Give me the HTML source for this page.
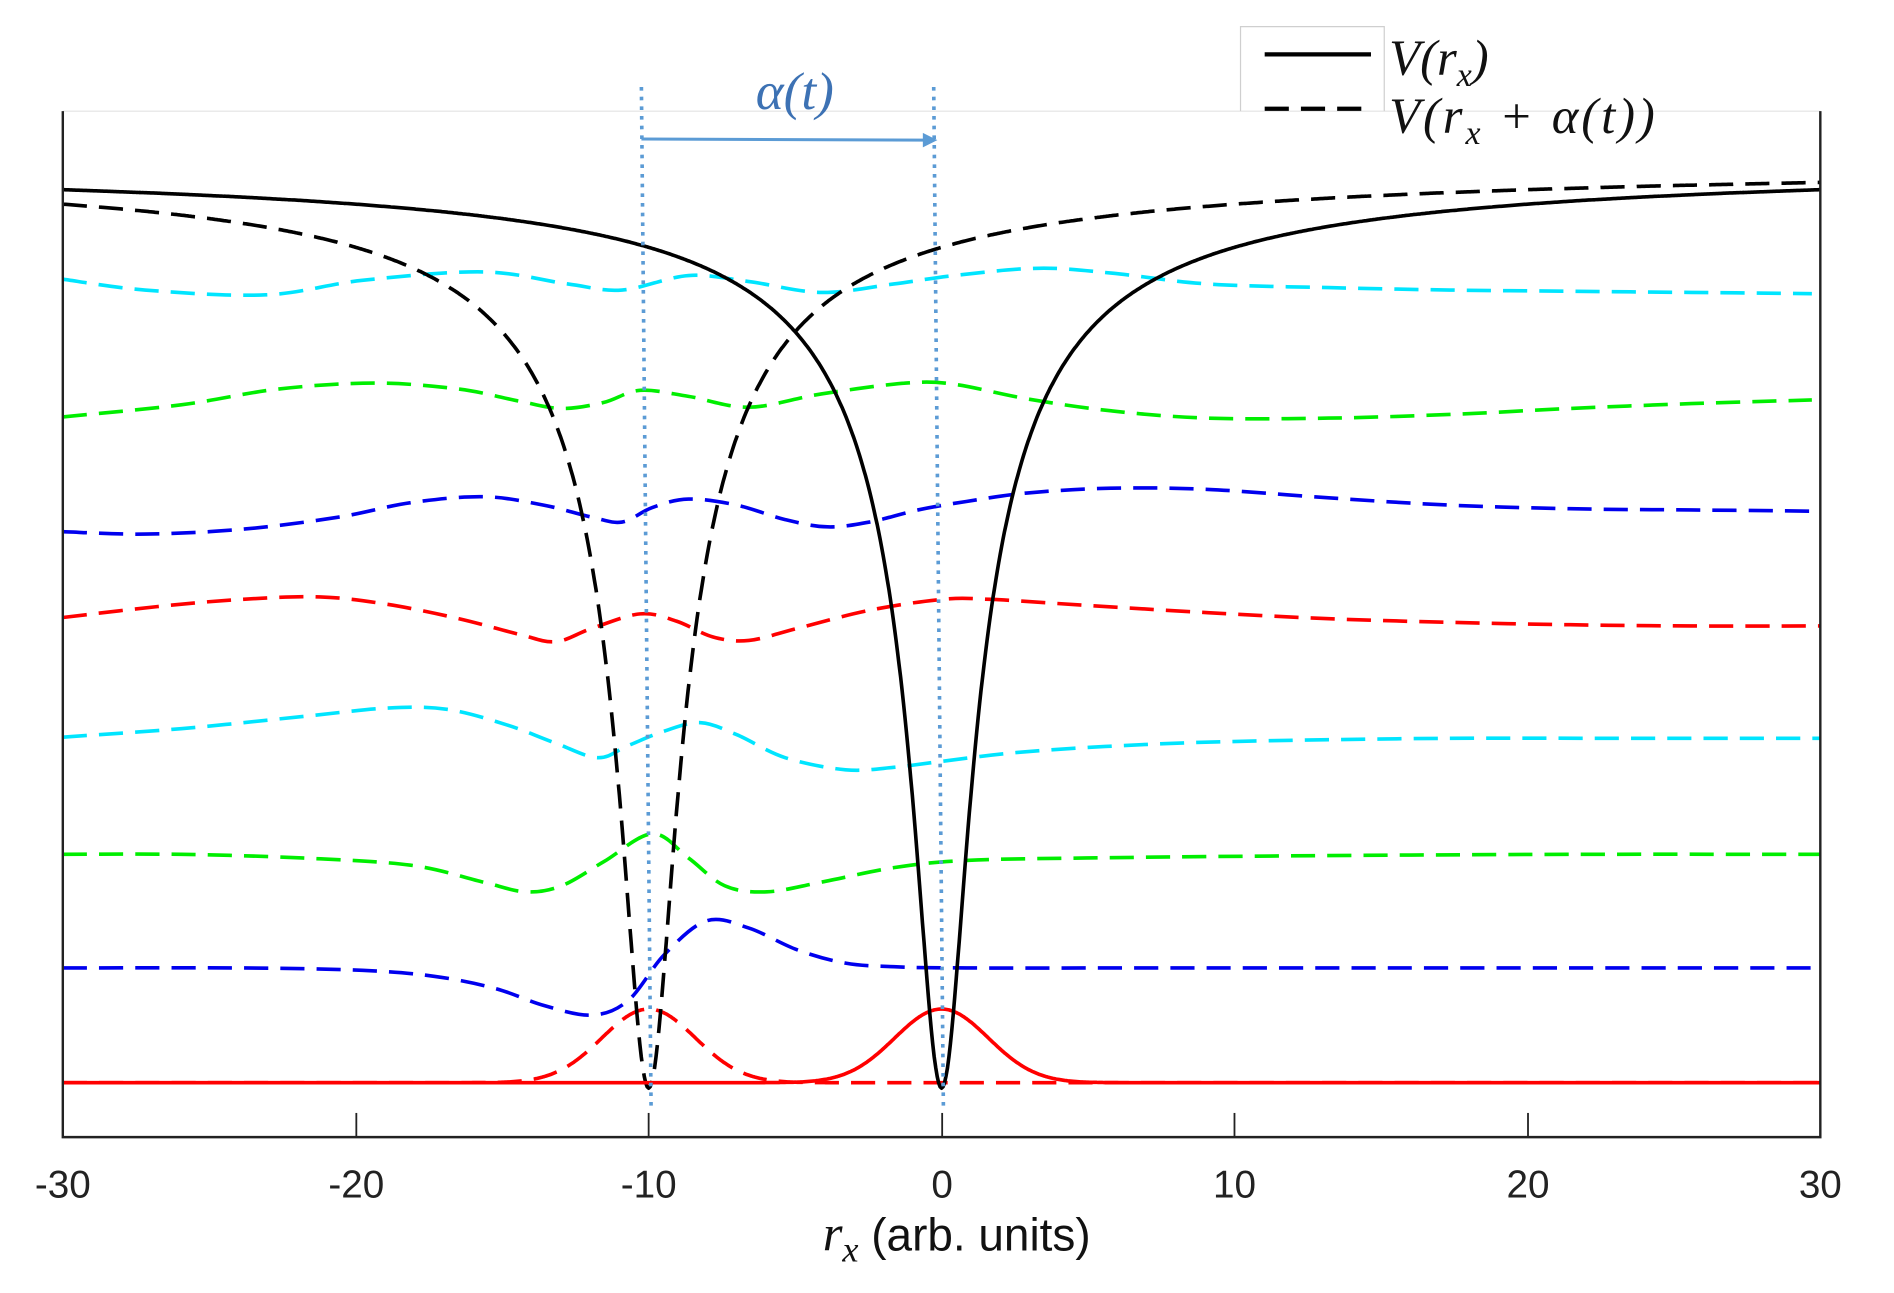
<!DOCTYPE html>
<html><head><meta charset="utf-8"><style>html,body{margin:0;padding:0;background:#fff}svg{display:block}</style></head>
<body>
<svg id="s" width="1894" height="1293" viewBox="0 0 1568 1070" preserveAspectRatio="none" xmlns="http://www.w3.org/2000/svg">
<rect width="1568" height="1070" fill="#fff"/>
<line x1="52" y1="92" x2="1507" y2="92" stroke="#e3e3e3" stroke-width="1"/>
<path d="M1027,92 V22 H1146 V92" fill="none" stroke="#cfcfcf" stroke-width="1"/>
<g id="w" fill="none" stroke-width="3" stroke-dasharray="20,10" stroke-linejoin="round">
<polyline stroke="#00e5ff" points="52,231 120,240 220,244 300,232 400,225 470,235 515,240 570,228 620,233 680,242 740,235 790,228 860,222 920,226 1000,235 1100,238 1200,240 1300,241 1400,242 1500,243"/>
<polyline stroke="#00ee00" points="52,345 150,335 230,322 310,317 380,322 430,332 465,338 500,333 530,323 570,328 620,337 680,326 750,317 790,318 850,330 920,340 1000,346 1100,346 1200,343 1300,338 1400,334 1500,331"/>
<polyline stroke="#0000ee" points="52,440 120,442 200,438 280,428 340,416 400,411 450,418 490,428 515,432 540,420 570,413 610,418 650,430 685,436 720,432 760,422 800,415 850,408 920,404 1000,405 1100,412 1200,418 1300,421 1400,422 1500,423"/>
<polyline stroke="#ff0000" points="52,511 130,502 200,496 265,494 320,500 380,512 430,525 460,531 490,520 530,508 560,514 590,527 620,530 660,520 720,505 780,496 820,496 900,501 1000,507 1100,512 1200,515 1300,517 1400,518 1507,518"/>
<polyline stroke="#00e5ff" points="52,610 150,603 250,593 320,586 370,587 420,600 460,615 495,627 520,617 550,605 580,598 610,608 650,627 700,637 740,635 780,630 850,622 950,616 1050,613 1200,611 1350,611 1507,611"/>
<polyline stroke="#00ee00" points="52,707 150,707 250,710 340,716 400,730 435,738 465,733 500,713 540,690 570,710 600,733 635,738 680,730 740,718 800,712 900,710 1100,708 1300,707 1507,707"/>
<polyline stroke="#0000ee" points="52,801 200,801 300,803 360,808 410,818 450,832 490,840 520,828 550,790 585,762 620,768 660,786 700,797 740,800 800,801 1000,801 1500,801"/>
</g>
<g fill="none" stroke-width="3" stroke-dasharray="20,10" stroke-linejoin="round">
<path id="rd" stroke="#ff0000"/>
<path id="kd" stroke="#000"/>
</g>
<g fill="none" stroke-width="3" stroke-linejoin="round">
<path id="rs" stroke="#ff0000"/>
<path id="ks" stroke="#000"/>
</g>
<g stroke="#5b9bd5" stroke-width="3" stroke-dasharray="3,5" fill="none">
<line x1="531" y1="72" x2="539" y2="915"/>
<line x1="773" y1="72" x2="781" y2="915"/>
</g>
<line x1="531" y1="115" x2="768" y2="116" stroke="#5b9bd5" stroke-width="2.5"/>
<path d="M776,116 L764,110 L764,122 Z" fill="#5b9bd5"/>
<text x="658" y="90" font-family="Liberation Serif, serif" font-style="italic" font-size="44" fill="#3d72b4" text-anchor="middle">α(t)</text>
<path d="M52,92 V941 H1507 V92" fill="none" stroke="#222" stroke-width="2"/>
<g stroke="#222" stroke-width="1.5">
<line x1="295" y1="941" x2="295" y2="921"/><line x1="537" y1="941" x2="537" y2="921"/>
<line x1="780" y1="941" x2="780" y2="921"/><line x1="1022" y1="941" x2="1022" y2="921"/>
<line x1="1265" y1="941" x2="1265" y2="921"/>
</g>
<g font-family="Liberation Sans, sans-serif" font-size="32" fill="#222" text-anchor="middle">
<text x="52" y="991">-30</text><text x="295" y="991">-20</text><text x="537" y="991">-10</text>
<text x="780" y="991">0</text><text x="1022" y="991">10</text><text x="1265" y="991">20</text><text x="1507" y="991">30</text>
</g>
<text x="792" y="1035" font-family="Liberation Sans, sans-serif" font-size="38" fill="#111" text-anchor="middle"><tspan font-family="Liberation Serif, serif" font-style="italic" font-size="42">r</tspan><tspan font-family="Liberation Serif, serif" font-style="italic" font-size="30" dy="9">x</tspan><tspan dy="-9"> (arb. units)</tspan></text>
<line x1="1047" y1="45" x2="1135" y2="45" stroke="#000" stroke-width="3.5"/>
<line x1="1047" y1="90" x2="1135" y2="90" stroke="#000" stroke-width="3.5" stroke-dasharray="20,10"/>
<g font-family="Liberation Serif, serif" font-style="italic" font-size="42" fill="#111">
<text x="1150" y="62">V(r<tspan font-size="28" dy="9">x</tspan><tspan dy="-9">)</tspan></text>
<text x="1150" y="110" textLength="220" lengthAdjust="spacing">V(r<tspan font-size="28" dy="9">x</tspan><tspan dy="-9"> + α(t))</tspan></text>
</g>
</svg>
<script>
function X(u){return 779.5+u*24.25;}
function V(u,c){return 133+720/Math.sqrt((u-c)*(u-c)+0.88);}
function G(u,c){return 896-61*Math.exp(-(u-c)*(u-c)/(2*1.6*1.6));}
function mk(f){var d="";for(var u=-30;u<=30.001;u+=0.05){d+=(d?"L":"M")+X(u).toFixed(1)+","+f(u).toFixed(1);}return d;}
document.getElementById("ks").setAttribute("d",mk(function(u){return V(u,0);}));
document.getElementById("kd").setAttribute("d",mk(function(u){return V(u,-10);}));
document.getElementById("rs").setAttribute("d",mk(function(u){return G(u,0);}));
document.getElementById("rd").setAttribute("d",mk(function(u){return G(u,-10);}));
var NS="http://www.w3.org/2000/svg";
var pls=document.querySelectorAll("#w polyline");
for(var k=0;k<pls.length;k++){var pl=pls[k];
var p=pl.getAttribute("points").trim().split(/\s+/).map(function(s){return s.split(",").map(Number);});
var d="M"+p[0][0]+","+p[0][1];
for(var i=0;i<p.length-1;i++){var p0=p[i>0?i-1:i],p1=p[i],p2=p[i+1],p3=p[i+2<p.length?i+2:i+1];
var c1x=p1[0]+(p2[0]-p0[0])/6,c1y=p1[1]+(p2[1]-p0[1])/6,c2x=p2[0]-(p3[0]-p1[0])/6,c2y=p2[1]-(p3[1]-p1[1])/6;
d+="C"+c1x.toFixed(1)+","+c1y.toFixed(1)+" "+c2x.toFixed(1)+","+c2y.toFixed(1)+" "+p2[0]+","+p2[1];}
var path=document.createElementNS(NS,"path");path.setAttribute("d",d);path.setAttribute("stroke",pl.getAttribute("stroke"));
pl.parentNode.replaceChild(path,pl);}
</script>
</body></html>
